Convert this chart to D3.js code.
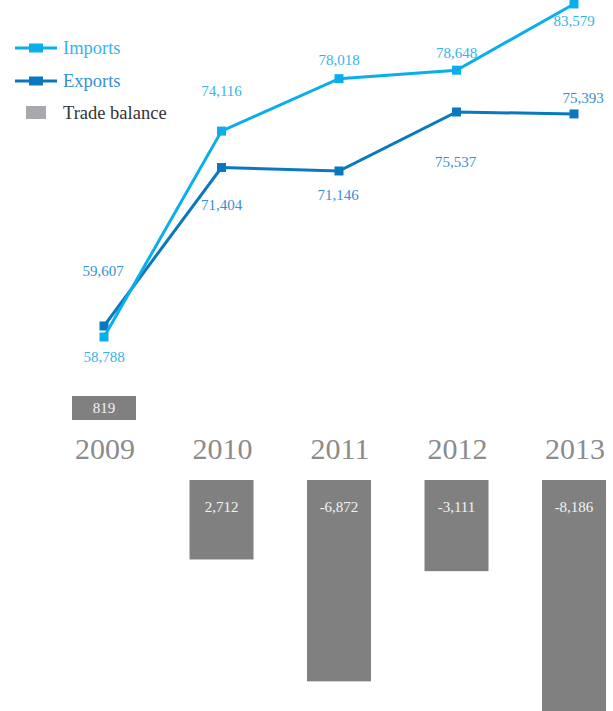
<!DOCTYPE html>
<html>
<head>
<meta charset="utf-8">
<script src="https://cdn.jsdelivr.net/npm/d3@7"></script>
<style>
  html, body { margin: 0; padding: 0; background: #ffffff; }
  svg { display: block; }
  text { font-family: "Liberation Serif", "Times New Roman", serif; }
</style>
</head>
<body>
<svg id="chart" width="613" height="711"></svg>
<script>
// ---- data -------------------------------------------------------------
const years = ["2009", "2010", "2011", "2012", "2013"];
const imports = [58788, 74116, 78018, 78648, 83579];
const exports = [59607, 71404, 71146, 75537, 75393];
const balance = [819, -2712, -6872, -3111, -8186];
const balanceLabels = ["819", "2,712", "-6,872", "-3,111", "-8,186"];
const seriesNames = ["Imports", "Exports", "Trade balance"];

// ---- label nudges (px from the marker) --------------------------------
const importsLabelDy = [25, -35, -13.5, -12.5, 22];
const exportsLabelDy = [-50.5, 42, 29, 55, -11];
const exportsLabelDx = [-1, 0, -1, -1, 9];

// ---- styles -----------------------------------------------------------
const colImports = "#0aaeea";
const colExports = "#0a78bf";
const colImportsText = "#36b3ea";
const colExportsText = "#3590d2";
const colBar = "#808080";
const colBarLegend = "#a7a9ac";

const svg = d3.select("#chart");
const fmt = d3.format(",");

// ---- scales -----------------------------------------------------------
const x = d3.scalePoint().domain(years).range([104, 574]);
const y = d3.scaleLinear().domain([59607, 75537]).range([326, 112]);
const barLen = d3.scaleLinear().domain([0, 10000]).range([0, 293]);
const posBase = 420;   // positive bars grow up from here
const negBase = 480;   // negative bars grow down from here
const barW = 64;

// ---- trade balance bars ----------------------------------------------
const bars = svg.append("g");
balance.forEach((v, i) => {
  const h = barLen(Math.abs(v));
  const cx = x(years[i]);
  bars.append("rect")
    .attr("x", cx - barW / 2)
    .attr("y", v >= 0 ? posBase - h : negBase)
    .attr("width", barW)
    .attr("height", h)
    .attr("fill", colBar);
  bars.append("text")
    .attr("x", cx)
    .attr("y", v >= 0 ? posBase - 7 : negBase + 32)
    .attr("text-anchor", "middle")
    .attr("font-size", 15)
    .attr("fill", "#f2f2f2")
    .text(balanceLabels[i]);
});

// ---- year labels ------------------------------------------------------
svg.append("g").selectAll("text").data(years).join("text")
  .attr("x", d => x(d) + 1)
  .attr("y", 459)
  .attr("text-anchor", "middle")
  .attr("font-size", 30)
  .attr("fill", "#8c8c8c")
  .text(d => d);

// ---- lines ------------------------------------------------------------
const line = d3.line().x((d, i) => x(years[i])).y(d => y(d));

function drawSeries(values, color, textColor, dys, dxs) {
  const g = svg.append("g");
  g.append("path")
    .datum(values)
    .attr("d", line)
    .attr("fill", "none")
    .attr("stroke", color)
    .attr("stroke-width", 3);
  g.selectAll("rect").data(values).join("rect")
    .attr("x", (d, i) => x(years[i]) - 4.5)
    .attr("y", d => y(d) - 4.5)
    .attr("width", 9)
    .attr("height", 9)
    .attr("fill", color);
  g.selectAll("text").data(values).join("text")
    .attr("x", (d, i) => x(years[i]) + (dxs ? dxs[i] : 0))
    .attr("y", (d, i) => y(d) + dys[i])
    .attr("text-anchor", "middle")
    .attr("font-size", 15)
    .attr("fill", textColor)
    .text(d => fmt(d));
}

drawSeries(exports, colExports, colExportsText, exportsLabelDy, exportsLabelDx);
drawSeries(imports, colImports, colImportsText, importsLabelDy, null);

// ---- legend -----------------------------------------------------------
const legend = svg.append("g");
const legendItems = [
  { name: seriesNames[0], color: colImports, text: colImportsText, type: "line", y: 48 },
  { name: seriesNames[1], color: colExports, text: colExportsText, type: "line", y: 81 },
  { name: seriesNames[2], color: colBarLegend, text: "#333333", type: "box", y: 113 }
];
legendItems.forEach(it => {
  if (it.type === "line") {
    legend.append("line")
      .attr("x1", 15).attr("x2", 57)
      .attr("y1", it.y).attr("y2", it.y)
      .attr("stroke", it.color).attr("stroke-width", 3);
    legend.append("rect")
      .attr("x", 29).attr("y", it.y - 4.5)
      .attr("width", 14).attr("height", 9)
      .attr("fill", it.color);
  } else {
    legend.append("rect")
      .attr("x", 26).attr("y", it.y - 7)
      .attr("width", 20).attr("height", 13)
      .attr("fill", it.color);
  }
  legend.append("text")
    .attr("x", 63)
    .attr("y", it.y + 5.5)
    .attr("font-size", 18.5)
    .attr("fill", it.text)
    .text(it.name);
});
</script>
</body>
</html>
